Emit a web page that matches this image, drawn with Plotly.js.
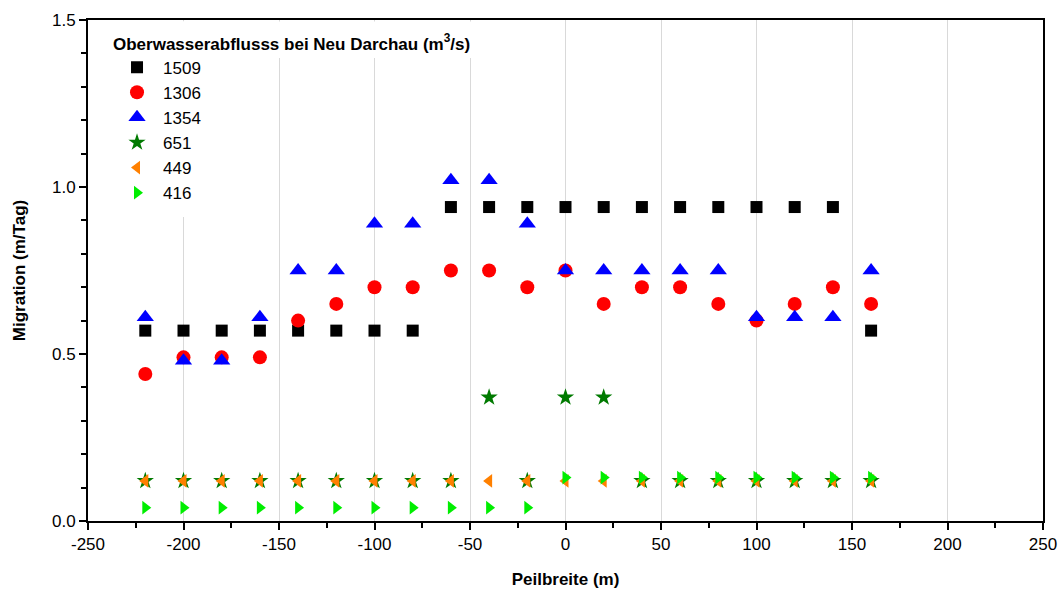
<!DOCTYPE html>
<html>
<head>
<meta charset="utf-8">
<script src="https://cdn.plot.ly/plotly-3.0.1.min.js"></script>
<style>html,body{margin:0;padding:0;background:#fff;}#chart{width:1058px;height:589px;}</style>
</head>
<body>
<div id="chart"></div>
<script>
// Peilbreite (m)
const peilbreite = [-220,-200,-180,-160,-140,-120,-100,-80,-60,-40,-20,0,20,40,60,80,100,120,140,160];
// Migration (m/Tag) per discharge (m³/s)
const q1509 = [0.57,0.57,0.57,0.57,0.57,0.57,0.57,0.57,0.94,0.94,0.94,0.94,0.94,0.94,0.94,0.94,0.94,0.94,0.94,0.57];
const q1306 = [0.44,0.49,0.49,0.49,0.60,0.65,0.70,0.70,0.75,0.75,0.70,0.75,0.65,0.70,0.70,0.65,0.60,0.65,0.70,0.65];
const q1354 = [0.61,0.48,0.48,0.61,0.75,0.75,0.89,0.89,1.02,1.02,0.89,0.75,0.75,0.75,0.75,0.75,0.61,0.61,0.61,0.75];
const q651  = [0.12,0.12,0.12,0.12,0.12,0.12,0.12,0.12,0.12,0.37,0.12,0.37,0.37,0.12,0.12,0.12,0.12,0.12,0.12,0.12];
const q449  = [0.12,0.12,0.12,0.12,0.12,0.12,0.12,0.12,0.12,0.12,0.12,0.12,0.12,0.12,0.12,0.12,0.12,0.12,0.12,0.12];
const q416  = [0.04,0.04,0.04,0.04,0.04,0.04,0.04,0.04,0.04,0.04,0.04,0.13,0.13,0.13,0.13,0.13,0.13,0.13,0.13,0.13];
const seriesNames = ['1509','1306','1354','651','449','416'];
// x tick labels (hyphen minus as in the original)
const xTickVals = [-250,-200,-150,-100,-50,0,50,100,150,200,250];
const xTickText = ['-250','-200','-150','-100','-50','0','50','100','150','200','250'];

const styles = [
  {symbol:'square', color:'#000000', size:12},
  {symbol:'circle', color:'#ff0000', size:14},
  {symbol:'triangle-up', color:'#0000ff', size:15},
  {symbol:'star', color:'#007a00', size:13},
  {symbol:'triangle-left', color:'#ff8000', size:12},
  {symbol:'triangle-right', color:'#00ee00', size:12}
];
const values = [q1509,q1306,q1354,q651,q449,q416];

const traces = values.map((v,i)=>({
  type:'scatter', mode:'markers', x:peilbreite, y:v, name:seriesNames[i],
  marker:{symbol:styles[i].symbol, color:styles[i].color, size:styles[i].size, line:{width:0}}
}));

const font = 'Liberation Sans, Arial, sans-serif';
const layout = {
  width:1058, height:589,
  margin:{l:88, r:15, t:20, b:68},
  paper_bgcolor:'#fff', plot_bgcolor:'#fff',
  font:{family:font, color:'#000', size:16},
  showlegend:true,
  legend:{
    x:0.0241, y:0.985, xanchor:'left', yanchor:'top',
    bgcolor:'rgba(0,0,0,0)', borderwidth:0,
    font:{family:font, size:17, color:'#000'},
    title:{text:'<b>Oberwasserabflusss bei Neu Darchau (m<sup>3</sup>/s)</b>', font:{family:font, size:17, color:'#000'}},
    itemwidth:42
  },
  xaxis:{
    range:[-250,250], tickmode:'array', tickvals:xTickVals, ticktext:xTickText,
    showgrid:true, gridcolor:'#d9d9d9', gridwidth:1, zeroline:false,
    showline:true, linecolor:'#000', linewidth:2, mirror:true,
    ticks:'outside', ticklen:7, tickwidth:2, tickcolor:'#000',
    minor:{tickmode:'linear', tick0:0, dtick:25, ticks:'outside', ticklen:5, tickwidth:2, tickcolor:'#000', showgrid:false},
    tickfont:{family:font, size:17, color:'#000'},
    title:{text:'<b>Peilbreite (m)</b>', font:{family:font, size:17, color:'#000'}, standoff:21}
  },
  yaxis:{
    range:[0,1.5], dtick:0.5, tick0:0, tickformat:'.1f',
    showgrid:false, zeroline:false,
    showline:true, linecolor:'#000', linewidth:2, mirror:true,
    ticks:'outside', ticklen:7, tickwidth:2, tickcolor:'#000',
    minor:{dtick:0.1, ticks:'outside', ticklen:5, tickwidth:2, tickcolor:'#000', showgrid:false},
    tickfont:{family:font, size:17, color:'#000'},
    title:{text:'<b>Migration (m/Tag)</b>', font:{family:font, size:17, color:'#000'}, standoff:22}
  },
  shapes:[
    {type:'rect', xref:'paper', yref:'paper', x0:0.003, x1:0.1225, y0:0.607, y1:0.997, fillcolor:'#ffffff', line:{width:0}, layer:'above'},
    {type:'rect', xref:'paper', yref:'paper', x0:0.003, x1:0.423, y0:0.924, y1:0.997, fillcolor:'#ffffff', line:{width:0}, layer:'above'}
  ]
};

Plotly.newPlot('chart', traces, layout, {displayModeBar:false, staticPlot:true});
</script>
</body>
</html>
